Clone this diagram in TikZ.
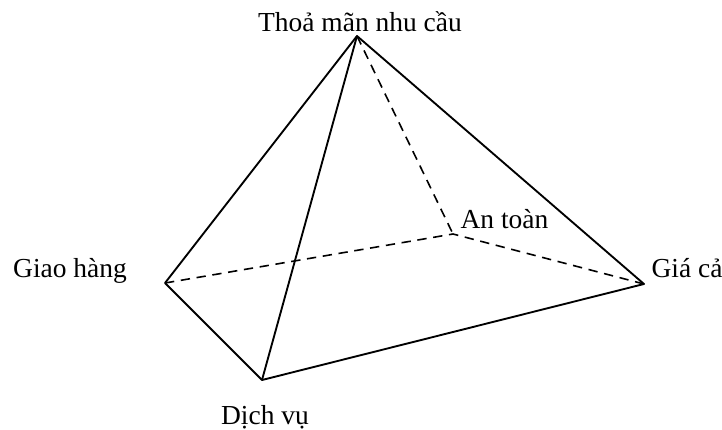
\documentclass[tikz,border=0pt]{standalone}
\usepackage{fontspec}
\setmainfont{Liberation Serif}
\usetikzlibrary{positioning}
\tikzset{
  vlabel/.style={font=\fontsize{20.6pt}{24pt}\selectfont,inner sep=0pt,anchor=base},
  edge/.style={line width=1.4pt,line join=round},
  hidden/.style={line width=1.2pt,dash pattern=on 7pt off 5pt},
}
\begin{document}
\begin{tikzpicture}[x=0.75pt,y=-0.75pt]
    \useasboundingbox (0,0) rectangle (722,429);
    \coordinate (top) at (357,36);
    \coordinate (giao) at (165,283);
    \coordinate (dich) at (262,380);
    \coordinate (gia) at (644,284);
    \coordinate (antoan) at (453,234);
    \node[vlabel] (ltop) at (360,31) {Thoả mãn nhu cầu};
    \node[vlabel] (lgiao) at (70,277) {Giao hàng};
    \node[vlabel] (ldich) at (265,424) {Dịch vụ};
    \node[vlabel] (lgia) at (687,277) {Giá cả};
    \node[vlabel] (lantoan) at (504.5,228) {An toàn};
    \draw[edge] (top)--(giao)--(dich)--(gia)--cycle;
    \draw[edge] (top)--(dich);
    \draw[hidden] (giao)--(antoan);
    \draw[hidden] (top)--(antoan);
    \draw[hidden] (gia)--(antoan);
\end{tikzpicture}
\end{document}
